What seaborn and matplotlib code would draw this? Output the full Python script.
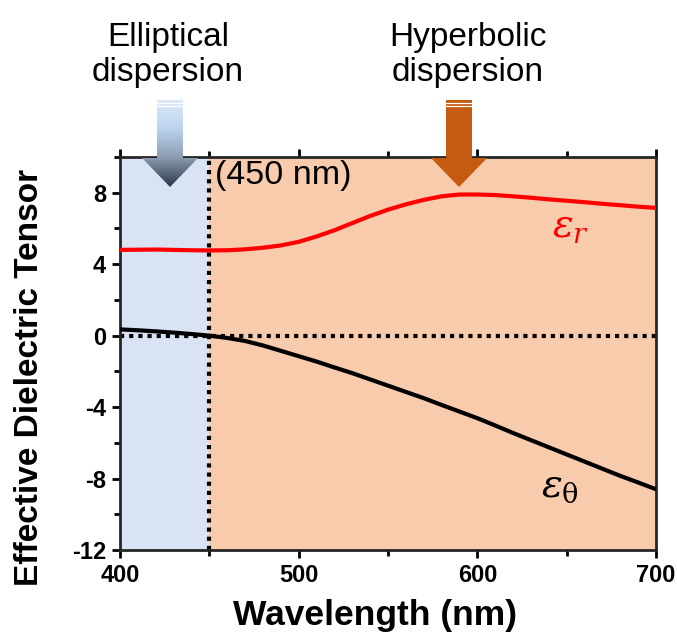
import numpy as np
import pandas as pd
import matplotlib
matplotlib.use("Agg")
from matplotlib import pyplot as plt
from matplotlib.patches import Polygon
from matplotlib.ticker import MultipleLocator
import seaborn as sns

# Data
wavelength = [400, 410, 420, 430, 440, 450, 460, 470, 480, 490, 500, 510, 520, 530, 540, 550,
              560, 570, 580, 590, 600, 610, 620, 630, 640, 650, 660, 670, 680, 690, 700]
eps_r = [4.80, 4.81, 4.82, 4.80, 4.78, 4.77, 4.78, 4.83, 4.92, 5.05, 5.25, 5.55, 5.90, 6.30, 6.70, 7.05,
         7.35, 7.60, 7.80, 7.90, 7.90, 7.87, 7.80, 7.72, 7.63, 7.55, 7.47, 7.38, 7.30, 7.22, 7.15]
eps_theta = [0.35, 0.30, 0.24, 0.17, 0.09, 0.00, -0.13, -0.30, -0.55, -0.85, -1.15, -1.45, -1.78, -2.10,
             -2.45, -2.80, -3.15, -3.50, -3.88, -4.25, -4.62, -5.03, -5.45, -5.85, -6.25, -6.65, -7.05,
             -7.45, -7.85, -8.22, -8.60]
boundary_nm = 450

df = pd.DataFrame({"wavelength": wavelength, "eps_r": eps_r, "eps_theta": eps_theta})

sns.set_style("ticks")
plt.rcParams["font.family"] = ["Liberation Sans", "DejaVu Sans"]
plt.rcParams["mathtext.fontset"] = "dejavuserif"
plt.rcParams["axes.unicode_minus"] = False
plt.rcParams["text.color"] = "black"
plt.rcParams["axes.labelcolor"] = "black"
plt.rcParams["xtick.color"] = "black"
plt.rcParams["ytick.color"] = "black"

fig = plt.figure(figsize=(6.77, 6.36), dpi=100)
ax = fig.add_axes([120 / 677, 86 / 636, 536 / 677, 393 / 636])

# shaded regions
ax.axvspan(400, boundary_nm, color="#dae3f3", zorder=0)
ax.axvspan(boundary_nm, 700, color="#f8cbad", zorder=0)

ax.axhline(0, color="black", lw=3, ls=(0, (1, 1.2)), zorder=2)
ax.axvline(boundary_nm, color="black", lw=3, ls=(0, (1, 1.2)), zorder=2)

sns.lineplot(data=df, x="wavelength", y="eps_r", color="#ff0000", lw=3, ax=ax, zorder=3)
sns.lineplot(data=df, x="wavelength", y="eps_theta", color="black", lw=3, ax=ax, zorder=3)

ax.set_xlim(400, 700)
ax.set_ylim(-12, 10)
ax.xaxis.set_major_locator(MultipleLocator(100))
ax.xaxis.set_minor_locator(MultipleLocator(50))
ax.yaxis.set_major_locator(MultipleLocator(4))
ax.yaxis.set_minor_locator(MultipleLocator(2))
ax.tick_params(which="major", length=6, width=2, labelsize=17, pad=4)
ax.tick_params(which="minor", length=4, width=2)
ax.tick_params(axis="x", which="both", top=True)
for lab in ax.get_xticklabels() + ax.get_yticklabels():
    lab.set_fontweight("bold")
for sp in ax.spines.values():
    sp.set_linewidth(2)

ax.set_xlabel("Wavelength (nm)", fontsize=25.5, fontweight="bold")
ax.set_ylabel("Effective Dielectric Tensor", fontsize=24, fontweight="bold")
ax.xaxis.set_label_coords(0.476, -0.125)
ax.yaxis.set_label_coords(-0.14, 0.44)

ax.text(453, 8.95, "(450 nm)", fontsize=24.5, va="center", ha="left")
ax.text(652, 6.1, r"$\varepsilon_r$", fontsize=28, color="#ff0000", ha="center", va="center")
ax.text(646, -8.5, r"$\varepsilon_{\mathrm{\theta}}$", fontsize=28, color="black", ha="center", va="center")

# top annotations and arrows (figure pixel overlay)
ov = fig.add_axes([0, 0, 1, 1], zorder=5)
ov.set_xlim(0, 677)
ov.set_ylim(636, 0)
ov.axis("off")
ov.patch.set_alpha(0)

fig.text(168 / 677, 1 - 55 / 636, "Elliptical\ndispersion", fontsize=24, ha="center", va="center", linespacing=1.2)
fig.text(468 / 677, 1 - 55 / 636, "Hyperbolic\ndispersion", fontsize=24, ha="center", va="center", linespacing=1.2)


def arrow_poly(cx, top=100, base=158, tip=187, sw=13, hw=28):
    return [(cx - sw, top), (cx + sw, top), (cx + sw, base), (cx + hw, base),
            (cx, tip), (cx - hw, base), (cx - sw, base)]


# blue gradient arrow
poly_b = Polygon(arrow_poly(170), closed=True, facecolor="none", edgecolor="none")
ov.add_patch(poly_b)
grad = np.linspace(0, 1, 256).reshape(-1, 1)
cmap = matplotlib.colors.LinearSegmentedColormap.from_list(
    "arr", ["#dbe8f8", "#bcd3ee", "#8a9bb0", "#2c3748"])
im = ov.imshow(grad, cmap=cmap, extent=(140, 200, 187, 100), aspect="auto", zorder=6)
im.set_clip_path(poly_b)

# orange arrow
ov.add_patch(Polygon(arrow_poly(459), closed=True, facecolor="#c55a11", edgecolor="none", zorder=6))

# white stripes at top of the shafts
for cx in (170, 459):
    for yy in (102.5, 105.5):
        ov.plot([cx - 14, cx + 14], [yy, yy], color="white", lw=0.9, zorder=7)

fig.savefig("out.png", dpi=100)
